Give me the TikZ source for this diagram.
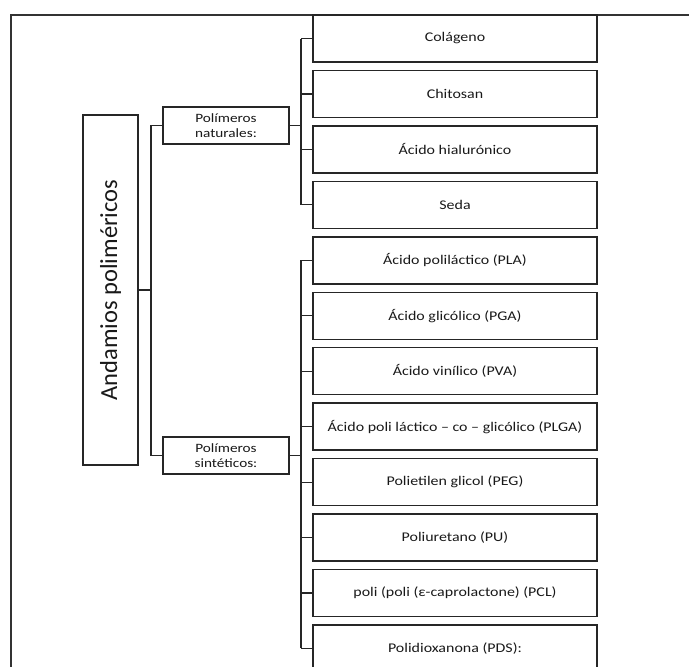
\documentclass[tikz,border=0pt]{standalone}
\usepackage{fontspec}
\setmainfont{Carlito}[FakeStretch=1.2]
\newfontfamily\titlefont{Carlito}
\begin{document}
\begin{tikzpicture}[x=1pt,y=-1pt,
  line/.style={draw=black!85,line width=1.1pt},
  leaf/.style={draw=black!85,line width=1.4pt,minimum width=284pt,minimum height=47pt,
    inner sep=0pt,font=\fontsize{13.3}{15}\selectfont,text=black!90},
  group/.style={draw=black!85,line width=1.4pt,minimum width=126pt,minimum height=37pt,
    inner sep=0pt,align=center,font=\fontsize{12.7}{14.5}\selectfont,text=black!90},
  root/.style={draw=black!85,line width=1.4pt,minimum width=350pt,minimum height=55pt,
    inner sep=0pt,rotate=90,font=\titlefont\fontsize{24.5}{28}\selectfont,text=black!90}]
\useasboundingbox (0,0) rectangle (689,667);
\clip (0,0) rectangle (689,667);
\fill[white] (0,0) rectangle (689,667);
% frame
\coordinate (fbl) at (11,667);
\coordinate (ftl) at (11,15);
\coordinate (ftr) at (689,15);
\draw[line width=1.3pt,black!80] (fbl) -- (ftl) -- (ftr);
% root and groups
\node[root] (root) at (110.5,290) {Andamios poliméricos};
\node[group] (nat) at (226,125.5) {Polímeros\\naturales:};
\node[group] (syn) at (226,455.5) {Polímeros\\sintéticos:};
% leaves
\foreach \t [count=\i from 0] in {Colágeno,Chitosan,Ácido hialurónico,Seda,
  Ácido poliláctico (PLA),Ácido glicólico (PGA),Ácido vinílico (PVA),
  Ácido poli láctico – co – glicólico (PLGA),Polietilen glicol (PEG),
  Poliuretano (PU),poli (poli (ε-caprolactone) (PCL),Polidioxanona (PDS):}
  \node[leaf] (l\i) at (455,{15+55.45*\i+23.5}) {\t};
% connectors
\coordinate (jx) at (151,0);
\coordinate (bx) at (301,0);
\draw[line] (root.south) -- (root.south -| jx);
\draw[line] (nat.west) -- (nat.west -| jx) -- (syn.west -| jx) -- (syn.west);
\draw[line] (nat.east) -- (nat.east -| bx);
\draw[line] (syn.east) -- (syn.east -| bx);
\draw[line] (l0.west -| bx) -- (l3.west -| bx);
\draw[line] (l4.west -| bx) -- (l11.west -| bx);
\foreach \i in {0,...,11} \draw[line] (l\i.west -| bx) -- (l\i.west);
\end{tikzpicture}
\end{document}
